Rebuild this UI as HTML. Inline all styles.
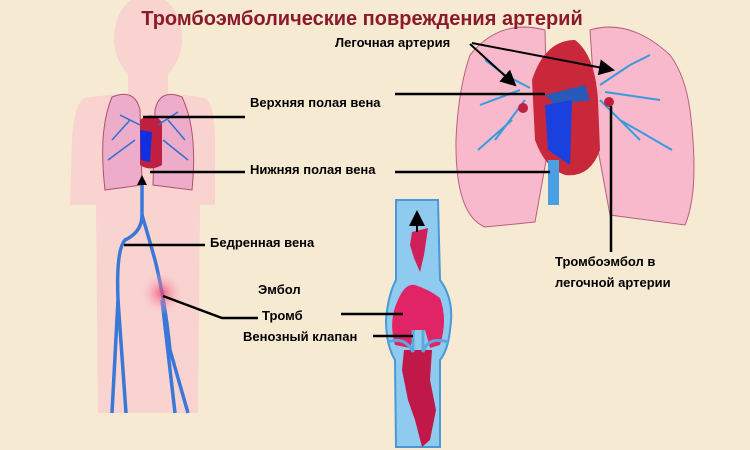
<!DOCTYPE html>
<html><head><meta charset="utf-8"><style>
html,body{margin:0;padding:0;background:#f6ead2;}
svg{display:block}
text{font-family:"Liberation Sans",sans-serif;font-weight:bold;}
</style></head><body>
<svg width="750" height="450" viewBox="0 0 750 450" xmlns="http://www.w3.org/2000/svg">
<defs>
<marker id="ar" markerWidth="8" markerHeight="8" refX="7" refY="4" orient="auto"><path d="M0,0 L8,4 L0,8 z" fill="#000"/></marker>
<radialGradient id="rg"><stop offset="0" stop-color="#f04070" stop-opacity=".8"/><stop offset="1" stop-color="#f8d0d8" stop-opacity="0"/></radialGradient>
</defs>
<rect width="750" height="450" fill="#f6ead2"/>
<!-- body -->
<g fill="#f9d3cf">
<ellipse cx="148" cy="38" rx="34" ry="44"/>
<rect x="128" y="70" width="40" height="30"/>
<path d="M85,98 Q148,88 205,98 Q215,105 215,140 L215,205 L200,205 L198,413 L98,413 L96,205 L70,205 L72,140 Q74,103 85,98z"/>
</g>
<!-- small lungs -->
<path d="M112,97 Q135,88 140,110 L142,185 L105,190 Q98,130 112,97z" fill="#eeaccb" stroke="#b05070"/>
<path d="M182,97 Q160,88 155,110 L153,185 L192,190 Q198,130 182,97z" fill="#eeaccb" stroke="#b05070"/>
<path d="M140,120 Q152,110 162,122 L162,165 Q150,172 140,165z" fill="#c02040"/>
<path d="M140,130 L152,132 L150,162 L141,160z" fill="#1030e0"/>
<g stroke="#3070d0" stroke-width="1.5" fill="none">
<path d="M140,125 L120,115 M130,120 L112,140 M135,140 L108,160 M158,125 L178,112 M168,120 L185,140 M163,140 L188,160"/>
</g>
<!-- body veins -->
<g stroke="#3a78d8" stroke-width="3.5" fill="none">
<path d="M142,180 L142,215 Q142,232 125,240 Q116,250 118,300 L112,413"/>
<path d="M142,215 Q148,235 155,260 Q165,300 170,350 L188,413"/>
<path d="M118,300 L126,413"/>
<path d="M162,300 L175,413"/>
</g>
<circle cx="162" cy="293" r="22" fill="url(#rg)"/>
<path d="M142,175 L137,185 L147,185z" fill="#000"/>
<!-- big lungs -->
<path d="M470,55 Q500,18 545,30 L548,150 L535,222 L485,227 Q455,215 456,140 Q458,90 470,55z" fill="#f7b9cb" stroke="#b86080"/>
<path d="M670,55 Q630,18 590,30 L598,150 L610,215 L685,225 Q700,190 690,110 Q685,75 670,55z" fill="#f7b9cb" stroke="#b86080"/>
<g stroke="#3a9ae0" stroke-width="2" fill="none">
<path d="M530,88 L505,75 M520,90 L480,105 M525,100 L495,140 M505,75 L485,60 M512,120 L478,150"/>
<path d="M600,85 L630,65 M605,92 L660,100 M600,100 L640,140 M630,65 L650,55 M620,120 L672,150"/>
</g>
<path d="M532,80 Q545,40 575,40 Q595,55 598,100 L600,150 Q590,178 565,175 Q545,168 535,140z" fill="#c8283a"/>
<path d="M545,95 L585,85 L590,100 L555,105z" fill="#2a5ab8"/>
<path d="M545,105 L572,100 L570,165 L548,150z" fill="#1a40e0"/>
<rect x="548" y="160" width="11" height="45" fill="#4aa0e0"/>
<circle cx="523" cy="108" r="5" fill="#c02040"/><circle cx="609" cy="102" r="5" fill="#c02040"/>
<!-- vein cross-section -->
<path d="M396,200 L438,200 L440,280 Q455,300 450,330 Q448,350 440,360 L440,447 L396,447 L395,360 Q386,345 386,320 Q388,295 396,280z" fill="#8ecbee" stroke="#4a98d8" stroke-width="2"/>
<path d="M412,232 L428,228 L424,255 L420,272 L414,258 L410,245z" fill="#d0205a"/>
<path d="M398,300 Q405,283 415,285 Q430,290 440,298 Q448,320 440,345 L430,348 L425,330 L415,330 L410,348 L395,345 Q388,320 398,300z" fill="#e02465"/>
<path d="M404,350 L432,350 L430,380 L436,410 L430,440 L422,447 L415,420 L408,400 L402,370z" fill="#c01848"/>
<path d="M388,342 Q405,336 413,352 L413,330 M448,342 Q428,336 423,352 L423,330" stroke="#5aaae0" stroke-width="3" fill="none"/>
<path d="M417,232 L417,212" stroke="#000" stroke-width="2" marker-end="url(#ar)"/>
<!-- title -->
<text x="362" y="25" font-size="20" fill="#8b1a2b" text-anchor="middle">Тромбоэмболические повреждения артерий</text>
<!-- labels -->
<g font-size="13" fill="#000">
<text x="335" y="47">Легочная артерия</text>
<text x="250" y="107">Верхняя полая вена</text>
<text x="250" y="174">Нижняя полая вена</text>
<text x="210" y="247">Бедренная вена</text>
<text x="258" y="294">Эмбол</text>
<text x="262" y="320">Тромб</text>
<text x="243" y="341">Венозный клапан</text>
<text x="555" y="266">Тромбоэмбол в</text>
<text x="555" y="287">легочной артерии</text>
</g>
<g stroke="#000" stroke-width="2.5" fill="none">
<path d="M143,117 L245,117"/>
<path d="M150,172 L245,172"/>
<path d="M395,94 L545,94"/>
<path d="M395,172 L550,172"/>
<path d="M124,245 L205,245"/>
<path d="M163,296 L222,318 L258,318"/>
<path d="M341,314 L403,314"/>
<path d="M373,336 L413,336"/>
<path d="M611,106 L611,252"/>
<path d="M470,44 L515,85" stroke-width="2" marker-end="url(#ar)"/>
<path d="M472,43 L613,70" stroke-width="2" marker-end="url(#ar)"/>
</g>
</svg>
</body></html>
